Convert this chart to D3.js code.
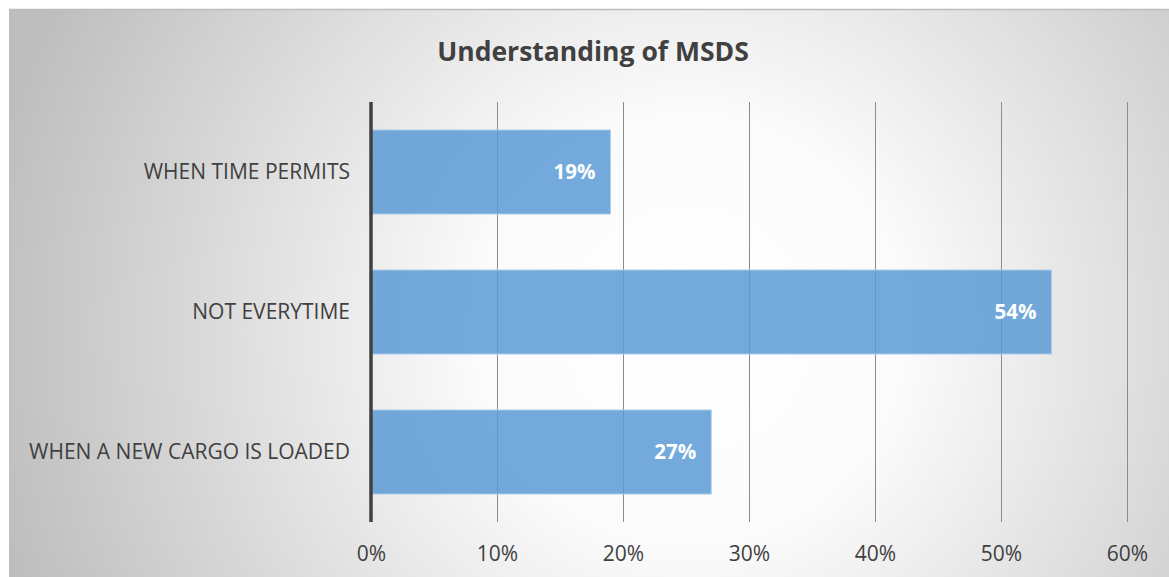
<!DOCTYPE html>
<html>
<head>
<meta charset="utf-8">
<script src="https://cdn.jsdelivr.net/npm/d3@7"></script>
<style>
  html, body { margin: 0; padding: 0; background: #ffffff; }
  svg { display: block; }
</style>
</head>
<body>
<svg id="chart" width="1169" height="577"></svg>
<script>
// Survey responses: how often the MSDS is consulted
const categories = ["WHEN TIME PERMITS", "NOT EVERYTIME", "WHEN A NEW CARGO IS LOADED"];
const values = [19, 54, 27];
const tickValues = [0, 10, 20, 30, 40, 50, 60];
const title = "Understanding of MSDS";

const W = 1169, H = 577;
const svg = d3.select("#chart");
const font = "'Open Sans', 'Noto Sans', sans-serif";

// Background panel with radial shading
const defs = svg.append("defs");
const grad = defs.append("radialGradient")
  .attr("id", "bg")
  .attr("gradientUnits", "userSpaceOnUse")
  .attr("cx", 690).attr("cy", 330).attr("r", 720);
grad.append("stop").attr("offset", "0%").attr("stop-color", "#ffffff");
grad.append("stop").attr("offset", "30%").attr("stop-color", "#fbfbfb");
grad.append("stop").attr("offset", "100%").attr("stop-color", "#bdbdbd");

svg.append("rect")
  .attr("x", 9).attr("y", 9).attr("width", W - 9).attr("height", H - 9)
  .attr("fill", "url(#bg)");
svg.append("line")
  .attr("x1", 9).attr("x2", W).attr("y1", 9.5).attr("y2", 9.5)
  .attr("stroke", "#bdbdbd").attr("stroke-width", 1.5);

// Plot area
const plot = { left: 371, right: 1127, top: 102, bottom: 522 };

const x = d3.scaleLinear().domain([0, 60]).range([plot.left, plot.right]);
const y = d3.scaleBand().domain(categories)
  .range([plot.top, plot.bottom])
  .paddingInner(0.4).paddingOuter(0.2);

// Vertical gridlines
const xAxis = d3.axisBottom(x)
  .tickValues(tickValues)
  .tickSize(-(plot.bottom - plot.top))
  .tickPadding(24)
  .tickFormat(d => d + "%");

const gx = svg.append("g")
  .attr("transform", `translate(0,${plot.bottom})`)
  .call(xAxis);
gx.select(".domain").remove();
gx.selectAll(".tick line")
  .attr("stroke", "#8c8c8c").attr("stroke-width", 1);
gx.selectAll(".tick text")
  .attr("fill", "#404040")
  .style("font-family", font)
  .style("font-size", "21px");

// Bars
svg.append("g").selectAll("rect")
  .data(categories)
  .join("rect")
  .attr("x", x(0))
  .attr("y", d => y(d))
  .attr("width", (d, i) => x(values[i]) - x(0))
  .attr("height", y.bandwidth())
  .attr("fill", "#5b9bd5")
  .attr("fill-opacity", 0.85)
  .attr("stroke", "#a9cbea")
  .attr("stroke-width", 1);

// Value labels inside the bar ends
svg.append("g").selectAll("text")
  .data(categories)
  .join("text")
  .attr("x", (d, i) => x(values[i]) - 15)
  .attr("y", d => y(d) + y.bandwidth() / 2)
  .attr("dy", "0.35em")
  .attr("text-anchor", "end")
  .attr("fill", "#ffffff")
  .style("font-family", font)
  .style("font-weight", "bold")
  .style("font-size", "20.5px")
  .text((d, i) => values[i] + "%");

// Category axis
const yAxis = d3.axisLeft(y).tickSize(0).tickPadding(21);
const gy = svg.append("g")
  .attr("transform", `translate(${plot.left},0)`)
  .call(yAxis);
gy.select(".domain").remove();
gy.selectAll(".tick text")
  .attr("fill", "#404040")
  .style("font-family", font)
  .style("font-size", "21px");

svg.append("line")
  .attr("x1", plot.left).attr("x2", plot.left)
  .attr("y1", plot.top).attr("y2", plot.bottom)
  .attr("stroke", "#404040").attr("stroke-width", 3.5);

// Title
svg.append("text")
  .attr("x", 593).attr("y", 61)
  .attr("text-anchor", "middle")
  .attr("fill", "#404040")
  .style("font-family", font)
  .style("font-weight", "bold")
  .style("font-size", "26.5px")
  .text(title);
</script>
</body>
</html>
